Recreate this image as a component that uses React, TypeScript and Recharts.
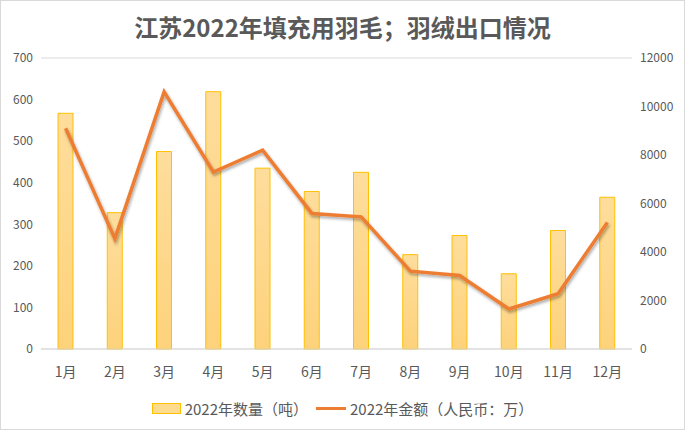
import React from "react";
import {
  ComposedChart,
  Bar,
  Line,
  XAxis,
  YAxis,
  CartesianGrid,
  Legend,
} from "recharts";

const months = ["1月", "2月", "3月", "4月", "5月", "6月", "7月", "8月", "9月", "10月", "11月", "12月"];
const quantity = [567, 328, 475, 619, 435, 379, 425, 227, 273, 181, 285, 365];
const amount = [9100, 4550, 10600, 7300, 8200, 5590, 5450, 3210, 3030, 1650, 2280, 5220];
const leftTicks = [0, 100, 200, 300, 400, 500, 600, 700];
const rightTicks = [0, 2000, 4000, 6000, 8000, 10000, 12000];

const QTY_NAME = "2022年数量（吨）";
const AMT_NAME = "2022年金额（人民币：万）";

const data = months.map((m, i) => ({ month: m, qty: quantity[i], amt: amount[i] }));

const FONT = '"Noto Sans CJK SC", "Microsoft YaHei", sans-serif';
const TEXT = "#595959";

function LegendContent() {
  return (
    <div
      style={{
        display: "flex",
        justifyContent: "center",
        alignItems: "center",
        height: 24,
        fontFamily: FONT,
        fontSize: 15,
        color: TEXT,
      }}
    >
      <span style={{ display: "inline-flex", alignItems: "center", marginRight: 8 }}>
        <span
          style={{
            display: "inline-block",
            width: 27,
            height: 9,
            background: "#fedb8f",
            border: "1px solid #ffc000",
            marginRight: 4,
          }}
        />
        {QTY_NAME}
      </span>
      <span style={{ display: "inline-flex", alignItems: "center" }}>
        <span
          style={{
            display: "inline-block",
            width: 30,
            height: 3,
            background: "#ed7d31",
            marginRight: 4,
          }}
        />
        {AMT_NAME}
      </span>
    </div>
  );
}

export default function App() {
  return (
    <div
      style={{
        position: "absolute",
        left: 0,
        top: 0,
        width: 685,
        height: 430,
        background: "#fff",
        boxSizing: "border-box",
        border: "1px solid #d9d9d9",
        fontFamily: FONT,
      }}
    >
      <div
        style={{
          position: "absolute",
          top: 9,
          left: 0,
          width: "100%",
          textAlign: "center",
          fontSize: 24,
          fontWeight: "bold",
          color: TEXT,
          lineHeight: "34px",
        }}
      >
        江苏2022年填充用羽毛；羽绒出口情况
      </div>
      <ComposedChart
        width={683}
        height={428}
        data={data}
        margin={{ top: 57, right: 0, left: 0, bottom: 9 }}
        style={{ position: "absolute", left: 0, top: 0 }}
      >
        <defs>
          <linearGradient id="barFill" x1="0" y1="0" x2="0" y2="1">
            <stop offset="0%" stopColor="#fedd9c" />
            <stop offset="100%" stopColor="#fdd27b" />
          </linearGradient>
          <filter id="lineShadow" x="-10%" y="-10%" width="120%" height="130%">
            <feDropShadow dx="1" dy="2" stdDeviation="1.5" floodColor="#000" floodOpacity="0.35" />
          </filter>
        </defs>
        <CartesianGrid stroke="#d9d9d9" vertical={false} />
        <XAxis
          dataKey="month"
          axisLine={{ stroke: "#d9d9d9" }}
          tickLine={false}
          tickMargin={12}
          height={47}
          tick={{ fontSize: 14, fill: TEXT, fontFamily: FONT }}
          interval={0}
        />
        <YAxis
          yAxisId="left"
          domain={[0, 700]}
          ticks={leftTicks}
          width={40}
          axisLine={false}
          tickLine={false}
          tick={{ fontSize: 12, fill: TEXT, fontFamily: FONT }}
        />
        <YAxis
          yAxisId="right"
          orientation="right"
          domain={[0, 12000]}
          ticks={rightTicks}
          width={52}
          axisLine={false}
          tickLine={false}
          tick={{ fontSize: 12, fill: TEXT, fontFamily: FONT, textAnchor: "start" }}
        />
        <Legend verticalAlign="bottom" content={<LegendContent />} />
        <Bar
          yAxisId="left"
          dataKey="qty"
          name={QTY_NAME}
          barSize={15}
          fill="url(#barFill)"
          stroke="#ffc000"
          strokeWidth={1}
          isAnimationActive={false}
        />
        <Line
          yAxisId="right"
          type="linear"
          dataKey="amt"
          name={AMT_NAME}
          stroke="#ed7d31"
          strokeWidth={3.5}
          dot={false}
          activeDot={false}
          filter="url(#lineShadow)"
          isAnimationActive={false}
        />
      </ComposedChart>
    </div>
  );
}
